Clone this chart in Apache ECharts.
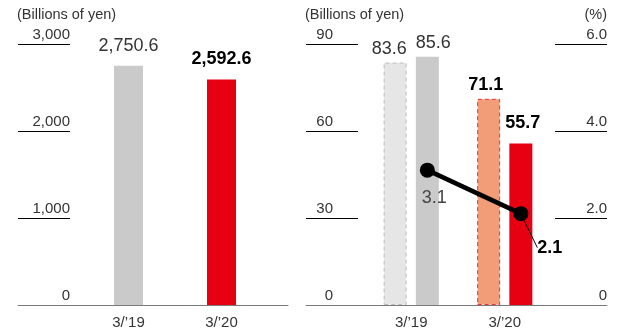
<!DOCTYPE html>
<html>
<head>
<meta charset="utf-8">
<script src="https://cdn.jsdelivr.net/npm/echarts@6/dist/echarts.min.js"></script>
<style>
  html, body { margin: 0; padding: 0; background: #fff; }
  #chart { width: 619px; height: 331px; }
</style>
</head>
<body>
<div id="chart"></div>
<script>
// Fiscal year-end categories
const categories = ['3/’19', '3/’20'];

// Net sales (billions of yen)
const netSales = [2750.6, 2592.6];
const salesTicks = [0, 1000, 2000, 3000];

// Operating income (billions of yen): dashed reference bars and reported bars
const incomeReference = [83.6, 71.1];
const operatingIncome = [85.6, 55.7];
const incomeTicks = [0, 30, 60, 90];

// Operating margin (%)
const operatingMargin = [3.1, 2.1];
const marginTicks = [0, 2.0, 4.0, 6.0];

const FONT = '"Liberation Sans", Arial, Helvetica, sans-serif';
const TEXT = '#333';
const PLOT_TOP = 44;
const PLOT_H = 261;

function tickAxis(ticks, extra) {
  return Object.assign({
    type: 'value',
    min: ticks[0],
    max: ticks[ticks.length - 1],
    interval: ticks[1] - ticks[0],
    axisLine: { show: false },
    splitLine: { show: false },
    axisTick: { show: true, inside: true, length: 52, lineStyle: { color: '#000', width: 1 } },
  }, extra);
}

function hiddenValueAxis(ticks, gridIndex) {
  return {
    type: 'value', gridIndex: gridIndex, show: false,
    min: ticks[0], max: ticks[ticks.length - 1], interval: ticks[1] - ticks[0]
  };
}

function tickLabel(margin, formatter) {
  return {
    inside: true, align: 'right', verticalAlign: 'bottom', margin: margin,
    padding: [0, 0, 2, 0],
    color: TEXT, fontSize: 15, fontFamily: FONT, formatter: formatter
  };
}

const baselineAxis = (gridIndex) => ({
  type: 'value', gridIndex: gridIndex, min: 0, max: 1, z: 3,
  axisLine: { show: true, lineStyle: { color: '#7a7a7a', width: 1 } },
  axisTick: { show: false }, axisLabel: { show: false }, splitLine: { show: false }
});

const categoryAxis = (gridIndex, showLabels) => ({
  type: 'category', gridIndex: gridIndex, data: categories,
  axisLine: { show: false }, axisTick: { show: false }, splitLine: { show: false },
  axisLabel: { show: showLabels, color: TEXT, fontSize: 15, fontFamily: FONT, margin: 10 }
});

const valueLabel = (bold) => bold
  ? { fontWeight: 'bold', color: '#000' }
  : { fontWeight: 'normal', color: TEXT };

const fmtSales = (v) => v.toLocaleString('en-US', { minimumFractionDigits: 1, maximumFractionDigits: 1 });

// Sales bars: gray for the prior year, red for the current year
const salesColors = ['#c9cac9', '#e60012'];
const salesData = netSales.map((v, i) => ({
  value: v,
  itemStyle: { color: salesColors[i] },
  label: valueLabel(i === 1)
}));

// Reference bars with dashed outline
const refFill = ['#e6e6e6', '#f29c78'];
const refBorder = ['#bdbdbd', '#e8323c'];
const refOffsets = [[-6, 0], [-3, 0]];
const refData = incomeReference.map((v, i) => ({
  value: v,
  itemStyle: { color: refFill[i], borderColor: refBorder[i], borderWidth: 1, borderType: [4, 3] },
  label: Object.assign({ offset: refOffsets[i] }, valueLabel(i === 1))
}));

const opColors = ['#c9cac9', '#e60012'];
const opOffsets = [[6, 0], [2, -6]];
const opData = operatingIncome.map((v, i) => ({
  value: v,
  itemStyle: { color: opColors[i] },
  label: Object.assign({ offset: opOffsets[i] }, valueLabel(i === 1))
}));

// Margin labels sit below-right of their points; the second one gets a leader line
const marginShift = [[7, 28], [29, 34]];
const marginData = operatingMargin.map((v, i) => ({
  value: v,
  label: i === 1
    ? { fontWeight: 'bold', color: '#000' }
    : { fontWeight: 'normal', color: '#444' },
  labelLine: { show: i === 1, lineStyle: { color: '#000', width: 1 } }
}));

const option = {
  animation: false,
  backgroundColor: '#fff',
  textStyle: { fontFamily: FONT },
  title: [
    { text: '(Billions of yen)', left: 17, top: 7, padding: 0,
      textStyle: { fontSize: 14.5, fontWeight: 'normal', color: TEXT, fontFamily: FONT } },
    { text: '(Billions of yen)', left: 305, top: 7, padding: 0,
      textStyle: { fontSize: 14.5, fontWeight: 'normal', color: TEXT, fontFamily: FONT } },
    { text: '(%)', right: 12, top: 7, padding: 0,
      textStyle: { fontSize: 14.5, fontWeight: 'normal', color: TEXT, fontFamily: FONT } }
  ],
  grid: [
    { left: 18, top: PLOT_TOP, width: 270, height: PLOT_H },      // net sales frame
    { left: 82, top: PLOT_TOP, width: 186, height: PLOT_H },      // net sales bars
    { left: 306, top: PLOT_TOP, width: 301, height: PLOT_H },     // income frame
    { left: 364.5, top: PLOT_TOP, width: 187, height: PLOT_H },   // income bars
    { left: 380.6, top: PLOT_TOP, width: 187, height: PLOT_H }    // margin line
  ],
  xAxis: [
    baselineAxis(0),
    categoryAxis(1, true),
    baselineAxis(2),
    categoryAxis(3, true),
    categoryAxis(4, false)
  ],
  yAxis: [
    tickAxis(salesTicks, { gridIndex: 0, position: 'left',
      axisLabel: tickLabel(52, (v) => v.toLocaleString('en-US')) }),
    hiddenValueAxis(salesTicks, 1),
    tickAxis(incomeTicks, { gridIndex: 2, position: 'left',
      axisLabel: tickLabel(27, (v) => String(v)) }),
    tickAxis(marginTicks, { gridIndex: 2, position: 'right',
      axisLabel: tickLabel(0, (v) => v === 0 ? '0' : v.toFixed(1)) }),
    hiddenValueAxis(incomeTicks, 3),
    hiddenValueAxis(marginTicks, 4)
  ],
  series: [
    {
      name: 'Net sales', type: 'bar', xAxisIndex: 1, yAxisIndex: 1,
      barWidth: 29, data: salesData,
      label: { show: true, position: 'top', distance: 11, fontSize: 18, fontFamily: FONT,
               formatter: (p) => fmtSales(p.value) }
    },
    {
      name: 'Operating income (reference)', type: 'bar', xAxisIndex: 3, yAxisIndex: 4,
      barWidth: 23, barGap: '40%', data: refData,
      label: { show: true, position: 'top', distance: 5, fontSize: 18, fontFamily: FONT,
               formatter: (p) => p.value.toFixed(1) }
    },
    {
      name: 'Operating income', type: 'bar', xAxisIndex: 3, yAxisIndex: 4,
      barWidth: 23, barGap: '40%', data: opData,
      label: { show: true, position: 'top', distance: 5, fontSize: 18, fontFamily: FONT,
               formatter: (p) => p.value.toFixed(1) }
    },
    {
      name: 'Operating margin', type: 'line', xAxisIndex: 4, yAxisIndex: 5, z: 5,
      data: marginData,
      symbol: 'circle', symbolSize: 15,
      lineStyle: { color: '#000', width: 4.5 },
      itemStyle: { color: '#000' },
      label: { show: true, position: 'inside', fontSize: 18, fontFamily: FONT,
               formatter: (p) => p.value.toFixed(1) },
      labelLayout: (p) => ({ dx: marginShift[p.dataIndex][0], dy: marginShift[p.dataIndex][1] })
    }
  ]
};

const chart = echarts.init(document.getElementById('chart'), null, { renderer: 'canvas' });
chart.setOption(option);
</script>
</body>
</html>
